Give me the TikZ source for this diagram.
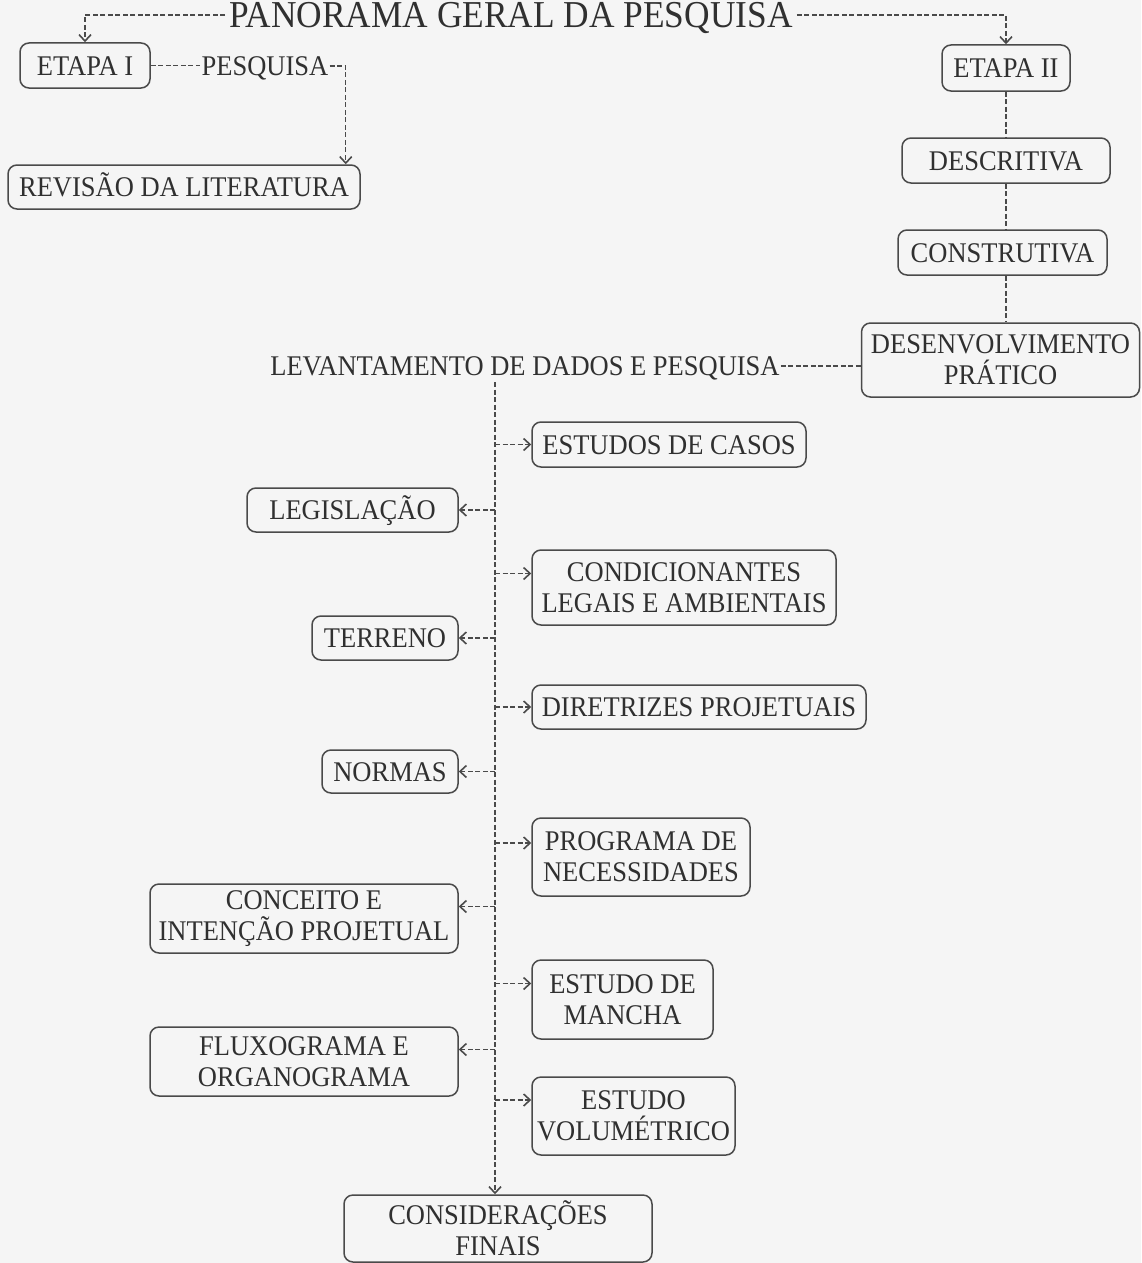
\documentclass[tikz,border=0pt]{standalone}
\usepackage{fontspec}
\setmainfont{Liberation Serif}[FakeStretch=0.93]
\usetikzlibrary{arrows.meta}
\definecolor{fundo}{HTML}{F5F5F5}
\definecolor{traco}{HTML}{4A4A4A}
\definecolor{letra}{HTML}{303030}
\begin{document}
\begin{tikzpicture}[x=1pt,y=-1pt,
    caixa/.style={draw=traco, line width=1.5pt, rounded corners=9pt, align=center,
      inner sep=0pt, text=letra, font=\fontsize{28.5}{31}\selectfont},
    uma/.style={text height=19pt, text depth=0pt},
    rotulo/.style={inner sep=1pt, text=letra, text height=19pt, text depth=0pt,
      font=\fontsize{28.5}{31}\selectfont},
    liga/.style={draw=traco, line width=1.1pt, dash pattern=on 5pt off 2.5pt},
    seta/.style={liga, -{Straight Barb[length=6.5pt,width=12pt,line width=1.6pt]}}]
    \useasboundingbox (0,0) rectangle (1141,1263);
    \fill[fundo] (0,0) rectangle (1141,1263);

    \node[rotulo, inner sep=4pt, text height=25pt, font=\fontsize{38}{42}\selectfont]
      (titulo) at (511,15) {PANORAMA GERAL DA PESQUISA};

    \node[caixa, uma, minimum width=130pt, minimum height=45pt] (etapaI) at (85,65.5) {ETAPA I};
    \node[rotulo] (pesquisa) at (265,66) {PESQUISA};
    \node[caixa, uma, minimum width=352pt, minimum height=44pt] (revisao) at (184,187) {REVISÃO DA LITERATURA};

    \node[caixa, uma, minimum width=128pt, minimum height=46pt] (etapaII) at (1006,68) {ETAPA II};
    \node[caixa, uma, minimum width=208pt, minimum height=45pt] (descritiva) at (1006,160.5) {DESCRITIVA};
    \node[caixa, uma, minimum width=209pt, minimum height=45pt] (construtiva) at (1002.5,252.5) {CONSTRUTIVA};
    \node[caixa, minimum width=278pt, minimum height=74pt] (desenv) at (1000.5,360) {DESENVOLVIMENTO\\PRÁTICO};

    \node[rotulo] (levantamento) at (525,366) {LEVANTAMENTO DE DADOS E PESQUISA};
    \coordinate (tronco) at (495,382);

    \node[caixa, uma, minimum width=274pt, minimum height=45pt] (casos) at (669,444.5) {ESTUDOS DE CASOS};
    \node[caixa, uma, minimum width=211pt, minimum height=44pt] (legislacao) at (352.5,510) {LEGISLAÇÃO};
    \node[caixa, minimum width=304pt, minimum height=75pt] (condicionantes) at (684,587.5) {CONDICIONANTES\\LEGAIS E AMBIENTAIS};
    \node[caixa, uma, minimum width=146pt, minimum height=44pt] (terreno) at (385,638) {TERRENO};
    \node[caixa, uma, minimum width=334pt, minimum height=44pt] (diretrizes) at (699,707) {DIRETRIZES PROJETUAIS};
    \node[caixa, uma, minimum width=136pt, minimum height=43pt] (normas) at (390,771.5) {NORMAS};
    \node[caixa, minimum width=218pt, minimum height=78pt] (programa) at (641,857) {PROGRAMA DE\\NECESSIDADES};
    \node[caixa, minimum width=308pt, minimum height=69pt] (conceito) at (304,918.5) {CONCEITO E\\INTENÇÃO PROJETUAL};
    \node[caixa, minimum width=181pt, minimum height=79pt] (mancha) at (622.5,999.5) {ESTUDO DE\\MANCHA};
    \node[caixa, minimum width=308pt, minimum height=69pt] (fluxograma) at (304,1061.5) {FLUXOGRAMA E\\ORGANOGRAMA};
    \node[caixa, minimum width=203pt, minimum height=78pt] (volumetrico) at (633.5,1116) {ESTUDO\\VOLUMÉTRICO};
    \node[caixa, minimum width=308pt, minimum height=67pt] (consideracoes) at (498,1228.5) {CONSIDERAÇÕES\\FINAIS};

    \draw[seta] (titulo.west) -| (etapaI.north);
    \draw[seta] (titulo.east) -| (etapaII.north);
    \draw[liga] (etapaI.east) -- (etapaI.east -| pesquisa.west);
    \draw[seta] (pesquisa.east) -| ([xshift=-15pt]revisao.north east);

    \draw[liga] (etapaII.south) -- (etapaII.south |- descritiva.north);
    \draw[liga] (etapaII.south |- descritiva.south) -- (etapaII.south |- construtiva.north);
    \draw[liga] (etapaII.south |- construtiva.south) -- (etapaII.south |- desenv.north);
    \draw[liga] (levantamento.east) -- (levantamento.east -| desenv.west);

    \draw[seta] (tronco) -- (tronco |- consideracoes.north);
    \draw[seta] (tronco |- casos.west) -- (casos.west);
    \draw[seta] (tronco |- legislacao.east) -- (legislacao.east);
    \draw[seta] ([yshift=14pt]condicionantes.west -| tronco) -- ([yshift=14pt]condicionantes.west);
    \draw[seta] (tronco |- terreno.east) -- (terreno.east);
    \draw[seta] (tronco |- diretrizes.west) -- (diretrizes.west);
    \draw[seta] (tronco |- normas.east) -- (normas.east);
    \draw[seta] ([yshift=14pt]programa.west -| tronco) -- ([yshift=14pt]programa.west);
    \draw[seta] ([yshift=12pt]conceito.east -| tronco) -- ([yshift=12pt]conceito.east);
    \draw[seta] ([yshift=16pt]mancha.west -| tronco) -- ([yshift=16pt]mancha.west);
    \draw[seta] ([yshift=12pt]fluxograma.east -| tronco) -- ([yshift=12pt]fluxograma.east);
    \draw[seta] ([yshift=16pt]volumetrico.west -| tronco) -- ([yshift=16pt]volumetrico.west);
\end{tikzpicture}
\end{document}
